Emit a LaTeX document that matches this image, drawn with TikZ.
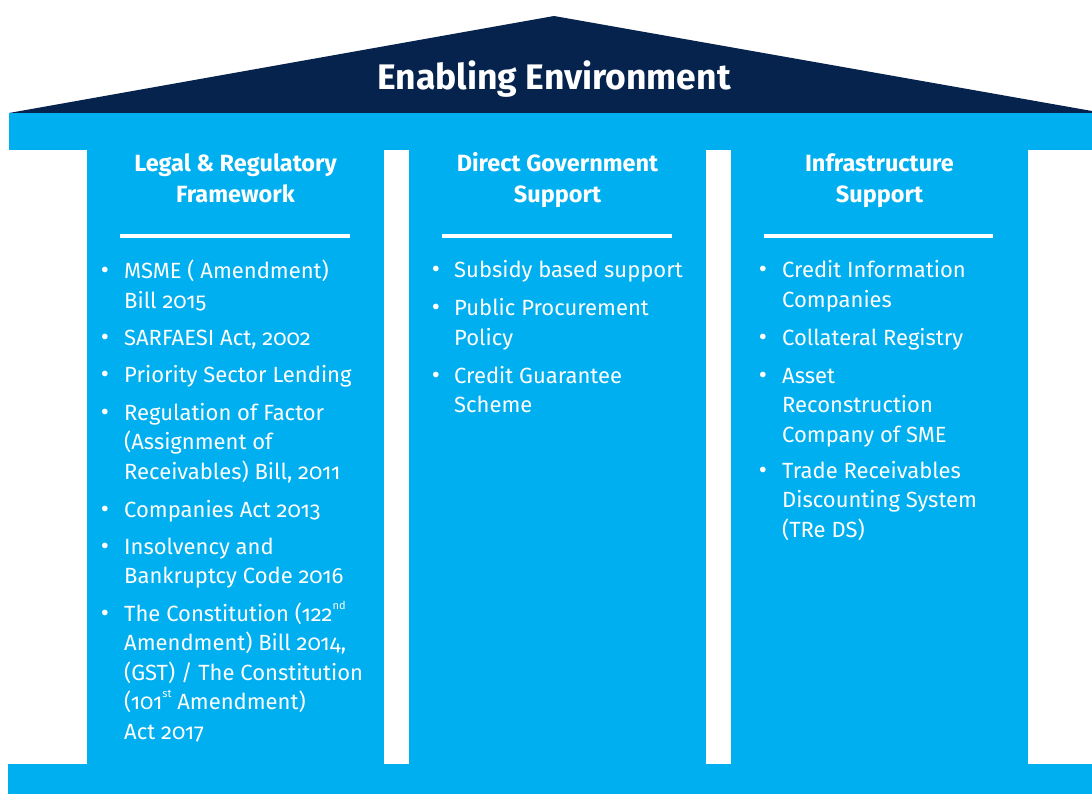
\documentclass[tikz,border=0pt]{standalone}
\usepackage{fontspec}
\setmainfont{Fira Sans}[Numbers=OldStyle]
\definecolor{navy}{HTML}{05234C}
\definecolor{sky}{HTML}{00AFEF}
\tikzset{
  roofstyle/.style={fill=navy, draw=none},
  skyfill/.style={fill=sky, draw=none},
  titlestyle/.style={text=white, font=\bfseries\fontsize{35.5}{40}\selectfont, inner sep=0pt, anchor=base},
  hdr/.style={text=white, font=\bfseries\fontsize{23.5}{31}\selectfont, inner sep=0pt, anchor=base},
  itm/.style={text=white, font=\fontsize{22}{29.5}\selectfont, inner sep=0pt, anchor=base west},
  bul/.style={text=white, font=\fontsize{25}{29.5}\selectfont, inner sep=0pt, anchor=base},
  hrule/.style={draw=white, line width=3.5pt},
}
\newcommand{\sps}[1]{\raisebox{1.0ex}{\fontsize{11}{11}\selectfont #1}}
\newcommand{\pitem}[5]{%
  \node[bul] (#1b) at (#2,#4) {•};
  \node[itm] (#1) at (#3,#4) {\begin{tabular}[t]{@{}l@{}}#5\end{tabular}};
}
\newcommand{\phdr}[3]{%
  \node[hdr] (#1) at (#2,172) {\begin{tabular}[t]{@{}c@{}}#3\end{tabular}};
}
\begin{document}
\begin{tikzpicture}[x=1pt,y=-1pt]
\useasboundingbox (0,0) rectangle (1092,794);
% roof
\fill[roofstyle] (9,113) -- (554,16) -- (1092,111) -- (1092,113) -- cycle;
\node[titlestyle] (title) at (554,90) {Enabling Environment};
% beam, columns, base
\fill[skyfill] (9,113) rectangle (1092,150);
\fill[skyfill] (87,150) rectangle (384,764);
\fill[skyfill] (409,150) rectangle (706,764);
\fill[skyfill] (731,150) rectangle (1028,764);
\fill[skyfill] (8,764) rectangle (1092,794);
% headers
\phdr{h1}{235.5}{Legal \& Regulatory\\Framework}
\phdr{h2}{557.5}{Direct Government\\Support}
\phdr{h3}{879.5}{Infrastructure\\Support}
\draw[hrule] (120,236) -- (350,236);
\draw[hrule] (442,236) -- (672,236);
\draw[hrule] (764,236) -- (993,236);
% left column
\pitem{a1}{105}{124}{279}{MSME ( Amendment)\\Bill 2015}
\pitem{a2}{105}{124}{345}{SARFAESI Act, 2002}
\pitem{a3}{105}{124}{382}{Priority Sector Lending}
\pitem{a4}{105}{124}{420}{Regulation of Factor\\(Assignment of\\Receivables) Bill, 2011}
\pitem{a5}{105}{124}{517}{Companies Act 2013}
\pitem{a6}{105}{124}{554}{Insolvency and\\Bankruptcy Code 2016}
\pitem{a7}{105}{124}{621}{The Constitution (122\sps{nd}\\Amendment) Bill 2014,\\(GST) / The Constitution\\(101\sps{st} Amendment)\\Act 2017}
% middle column
\pitem{b1}{436}{454}{278}{Subsidy based support}
\pitem{b2}{436}{454}{316}{Public Procurement\\Policy}
\pitem{b3}{436}{454}{383}{Credit Guarantee\\Scheme}
% right column
\pitem{c1}{763}{782}{278}{Credit Information\\Companies}
\pitem{c2}{763}{782}{345}{Collateral Registry}
\pitem{c3}{763}{782}{383}{Asset\\Reconstruction\\Company of SME}
\pitem{c4}{763}{782}{478}{Trade Receivables\\Discounting System\\(TRe DS)}
\end{tikzpicture}
\end{document}
